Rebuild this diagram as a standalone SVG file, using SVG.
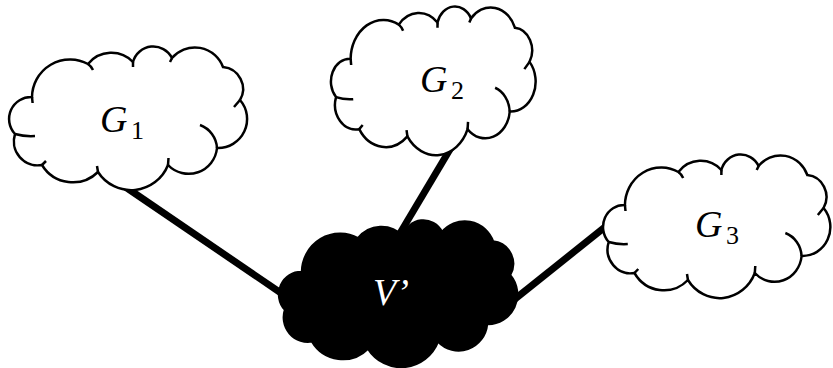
<svg xmlns="http://www.w3.org/2000/svg" xmlns:xlink="http://www.w3.org/1999/xlink" width="833" height="368" viewBox="0 0 833 368">
<style>
.cl{fill:#fff;stroke:#000;stroke-width:2.5}
.dk{fill:#000;stroke:#000;stroke-width:2.5}
.det{fill:none;stroke:#000;stroke-width:2.5}
.ns{vector-effect:non-scaling-stroke}
.edge{stroke:#000;stroke-width:7;stroke-linecap:butt}
.lbl{font-family:"Liberation Serif","Times New Roman",serif;font-style:italic;font-size:38px;fill:#000}
.sub{font-style:normal;font-size:26px}
.wt{fill:#fff}
</style>
<defs>
<path id="cloud" class="ns" d="M24,51 A38,38 0 0 1 80,18 A30,30 0 0 1 125,16 A21,21 0 0 1 164,12 A30,30 0 0 1 215,21 A22,22 0 0 1 232,54 A29,29 0 0 1 209,102 A28.5,28.5 0 0 1 160,119 A39.5,39.5 0 0 1 90,126 A36,36 0 0 1 34,119 A24,24 0 0 1 7,88 A22,22 0 0 1 24,51 Z"/>
<path id="cdet" class="ns" d="M24,51 L24.6,57 M80,18 Q83,20 85,24 M125,16 L125,21 M164,12 L162,16 M232,54 L226,61 M192,79 A26,26 0 0 1 209,102 M160,119 L160.5,112 M90,126 L89,120 M34,119 L38,115 M7,88 A60,60 0 0 0 27,90"/>
</defs>
<g id="connectors">
<line class="edge" x1="124" y1="186" x2="300" y2="306"/>
<line class="edge" x1="452" y1="146" x2="396" y2="240"/>
<line class="edge" x1="510" y1="303" x2="615" y2="219"/>
</g>
<g id="G1">
<g transform="translate(8,46)"><use href="#cloud" class="cl"/><use href="#cdet" class="det"/></g>
<text class="lbl" x="100" y="132">G<tspan class="sub" x="131" y="139">1</tspan></text>
</g>
<g id="G2">
<g transform="translate(330,6) scale(0.86,1.035)"><use href="#cloud" class="cl"/><use href="#cdet" class="det"/></g>
<text class="lbl" x="420" y="92">G<tspan class="sub" x="451" y="99">2</tspan></text>
</g>
<g id="G3">
<g transform="translate(602,154) scale(0.955,1)"><use href="#cloud" class="cl"/><use href="#cdet" class="det"/></g>
<text class="lbl" x="695" y="237">G<tspan class="sub" x="726" y="244">3</tspan></text>
</g>
<g id="V">
<g transform="translate(278,220) scale(1,1.02)"><use href="#cloud" class="dk"/></g>
<text class="lbl wt" x="373" y="305">V’</text>
</g>
</svg>
